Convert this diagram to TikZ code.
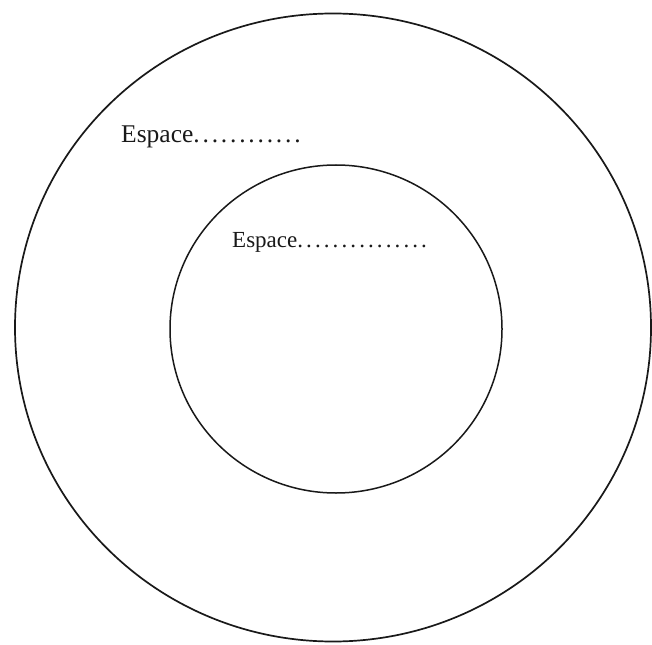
\documentclass[tikz,border=0pt]{standalone}
\usepackage{fontspec}
\setmainfont{Liberation Serif}
\newcommand{\spdots}[2]{\foreach \i in {1,...,#1}{.\kern#2}}
\begin{document}
\begin{tikzpicture}[x=1pt,y=1pt,
  ring/.style={draw=black!90, line width=1.7pt},
  lbl/.style={anchor=base west, inner sep=0pt, text=black!90}]
\useasboundingbox (0,0) rectangle (652,-644);
\fill[white] (0,0) rectangle (652,-644);
\draw[ring] (333,-327.5) ellipse [x radius=318, y radius=314];
\draw[ring, line width=1.5pt] (336,-329) ellipse [x radius=166, y radius=164];
\node[lbl, font=\fontsize{25.5}{28}\selectfont] (outer) at (121,-143) {Espace\spdots{12}{2.8pt}};
\node[lbl, font=\fontsize{23}{26}\selectfont] (inner) at (232,-247) {Espace\spdots{15}{3.1pt}};
\end{tikzpicture}
\end{document}
